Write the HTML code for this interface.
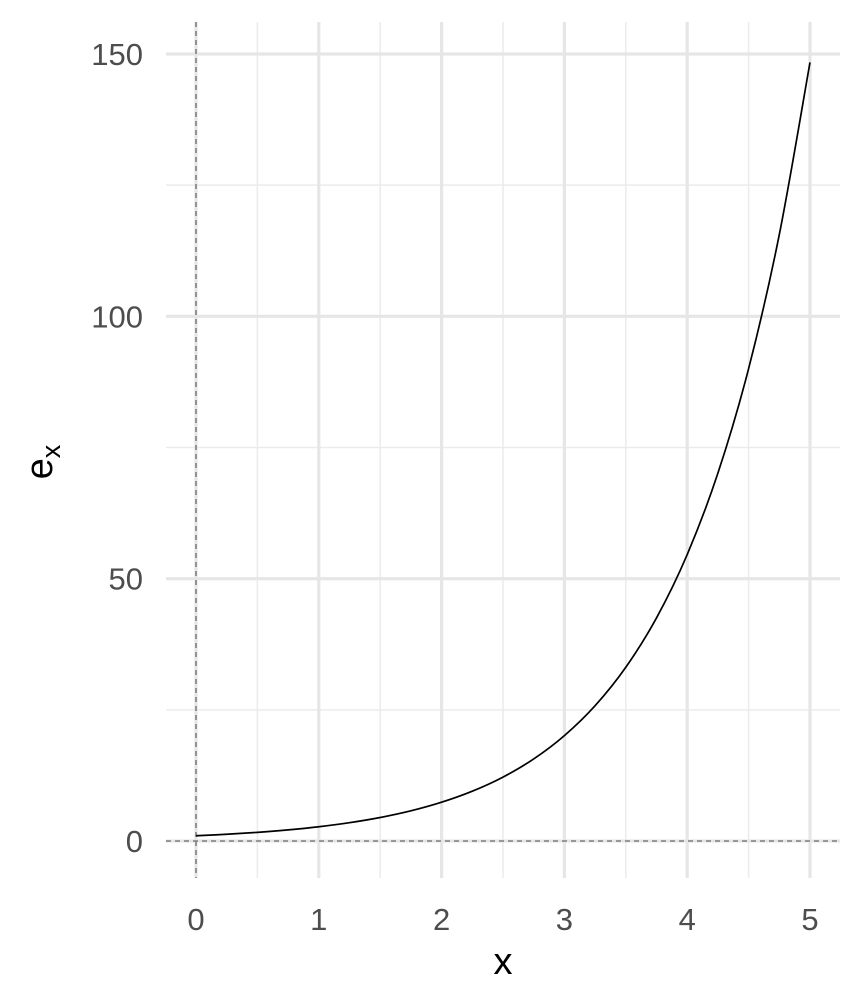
<!DOCTYPE html>
<html><head><meta charset="utf-8"><style>
html,body{margin:0;padding:0;background:#fff;}
svg{display:block;font-family:"Liberation Sans",Arial,sans-serif;}
</style></head><body>
<svg id="chart" width="864" height="1008" viewBox="0 0 864 1008">
<g id="grid"></g>
<g id="refs"></g>
<g id="series"></g>
<g id="xticks"></g>
<g id="yticks"></g>
<text x="503" y="974" font-size="38" text-anchor="middle" fill="#000">x</text>
<text transform="translate(52,462) rotate(-90)" font-size="38" text-anchor="middle" fill="#000">e<tspan font-size="27" dy="8">x</tspan></text>
</svg>
<script>
const xs = [0,0.25,0.5,0.75,1,1.25,1.5,1.75,2,2.25,2.5,2.75,3,3.25,3.5,3.75,4,4.25,4.5,4.75,5];
const ys = [1,1.28,1.65,2.12,2.72,3.49,4.48,5.75,7.39,9.49,12.18,15.64,20.09,25.79,33.12,42.52,54.6,70.11,90.02,115.58,148.41];
const xMajor = [0,1,2,3,4,5];
const xMinor = [0.5,1.5,2.5,3.5,4.5];
const yMajor = [0,50,100,150];
const yMinor = [25,75,125];
const xTickLabels = ["0","1","2","3","4","5"];
const yTickLabels = ["0","50","100","150"];

const X0=196, XS=(810-196)/5, Y0=841, YS=(841-54)/150;
const L=166, R=840, T=22, B=878;
const sx=v=>X0+v*XS, sy=v=>Y0-v*YS;
const NS="http://www.w3.org/2000/svg";
function mk(tag,parent,attrs){const e=document.createElementNS(NS,tag);for(const k in attrs)e.setAttribute(k,attrs[k]);parent.appendChild(e);return e;}
const grid=document.getElementById('grid');
xMinor.forEach(v=>{const e=mk('line',grid,{x1:sx(v),x2:sx(v),y1:T,y2:B,stroke:'#ebebeb','stroke-width':1.5});

});
yMinor.forEach(v=>{const e=mk('line',grid,{x1:L,x2:R,y1:sy(v),y2:sy(v),stroke:'#ebebeb','stroke-width':1.5});

});
xMajor.forEach(v=>{const e=mk('line',grid,{x1:sx(v),x2:sx(v),y1:T,y2:B,stroke:'#e6e6e6','stroke-width':3.2});

});
yMajor.forEach(v=>{const e=mk('line',grid,{x1:L,x2:R,y1:sy(v),y2:sy(v),stroke:'#e6e6e6','stroke-width':3.2});

});
const refs=document.getElementById('refs');
const rv=mk('line',refs,{x1:sx(0),x2:sx(0),y1:T,y2:B,stroke:'#7f7f7f','stroke-width':1.6,'stroke-dasharray':'5,4'});


const rh=mk('line',refs,{x1:L,x2:R,y1:sy(0),y2:sy(0),stroke:'#7f7f7f','stroke-width':1.6,'stroke-dasharray':'5,4'});


const series=document.getElementById('series');
const P=xs.map((x,i)=>[sx(x),sy(ys[i])]);
let d='M'+P[0][0]+','+P[0][1];
for(let i=0;i<P.length-1;i++){
  const p0=P[Math.max(i-1,0)],p1=P[i],p2=P[i+1],p3=P[Math.min(i+2,P.length-1)];
  const c1=[p1[0]+(p2[0]-p0[0])/6,p1[1]+(p2[1]-p0[1])/6];
  const c2=[p2[0]-(p3[0]-p1[0])/6,p2[1]-(p3[1]-p1[1])/6];
  d+=' C'+c1.join(',')+' '+c2.join(',')+' '+p2.join(',');
}
const p=mk('path',series,{d:d,fill:'none',stroke:'#000','stroke-width':1.7});


const xt=document.getElementById('xticks');
xMajor.forEach((v,i)=>{const t=mk('text',xt,{x:sx(v),y:930,'font-size':31,'text-anchor':'middle',fill:'#4d4d4d'});t.textContent=xTickLabels[i];

});
const yt=document.getElementById('yticks');
yMajor.forEach((v,i)=>{const t=mk('text',yt,{x:143,y:sy(v)+11,'font-size':31,'text-anchor':'end',fill:'#4d4d4d'});t.textContent=yTickLabels[i];

});
</script>
</body></html>
